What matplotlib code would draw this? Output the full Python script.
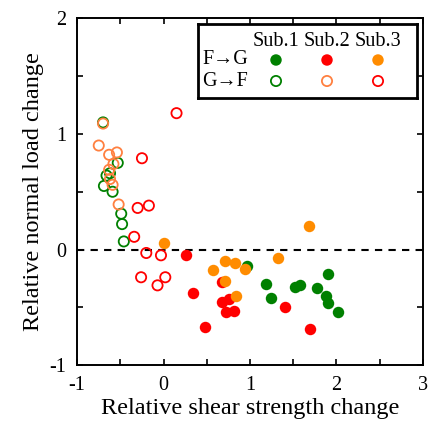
import matplotlib
matplotlib.use("Agg")
import matplotlib.pyplot as plt
import numpy as np

plt.rcParams['font.family'] = ['Liberation Serif', 'DejaVu Serif']
plt.rcParams['axes.unicode_minus'] = False

# F->G (filled)
sub1_fg_x = [0.96, 1.18, 1.24, 1.52, 1.58, 1.78, 1.90, 1.88, 1.90, 2.02]
sub1_fg_y = [-0.14, -0.30, -0.42, -0.32, -0.31, -0.33, -0.21, -0.40, -0.46, -0.54]

sub2_fg_x = [0.26, 0.34, 0.48, 0.68, 0.68, 0.76, 0.72, 0.82, 1.40, 1.70]
sub2_fg_y = [-0.05, -0.38, -0.67, -0.28, -0.45, -0.43, -0.54, -0.53, -0.50, -0.69]

sub3_fg_x = [0.00, 0.57, 0.71, 0.83, 0.94, 0.71, 0.84, 1.32, 1.68]
sub3_fg_y = [0.06, -0.18, -0.10, -0.12, -0.17, -0.27, -0.40, -0.07, 0.20]

# G->F (open)
sub1_gf_x = [-0.70, -0.66, -0.69, -0.59, -0.53, -0.49, -0.48, -0.46, -0.62]
sub1_gf_y = [1.10, 0.64, 0.55, 0.50, 0.75, 0.31, 0.22, 0.07, 0.66]

sub2_gf_x = [-0.70, -0.75, -0.63, -0.54, -0.58, -0.63, -0.62, -0.59, -0.52]
sub2_gf_y = [1.09, 0.90, 0.82, 0.84, 0.74, 0.69, 0.61, 0.56, 0.39]

sub3_gf_x = [0.15, -0.25, -0.30, -0.17, -0.34, -0.20, -0.03, -0.26, 0.02, -0.07]
sub3_gf_y = [1.18, 0.79, 0.36, 0.38, 0.11, -0.03, -0.05, -0.24, -0.24, -0.31]

GREEN = "#008000"
RED = "#ff0000"
ORANGE = "#ff8c00"
LORANGE = "#ff8040"

sub_labels = ["Sub.1", "Sub.2", "Sub.3"]
row_labels = ["F\u2192G", "G\u2192F"]
fg_colors = [GREEN, RED, ORANGE]
gf_colors = [GREEN, LORANGE, RED]

fig = plt.figure(figsize=(4.31, 4.28), dpi=100)
ax = fig.add_axes([0.179, 0.147, 0.802, 0.810])

S_FILL = 68
S_OPEN = 54
LW_OPEN = 1.3

ax.axhline(0, color="black", lw=1.5, ls=(0, (3.5, 3)), zorder=1)

# open markers
ax.scatter(sub1_gf_x, sub1_gf_y, s=S_OPEN, facecolors="none", edgecolors=GREEN, linewidths=LW_OPEN, zorder=2)
ax.scatter(sub2_gf_x, sub2_gf_y, s=S_OPEN, facecolors="none", edgecolors=LORANGE, linewidths=LW_OPEN, zorder=3)
ax.scatter(sub3_gf_x, sub3_gf_y, s=S_OPEN, facecolors="none", edgecolors=RED, linewidths=LW_OPEN, zorder=3)

# filled markers
ax.scatter(sub1_fg_x, sub1_fg_y, s=S_FILL, color=GREEN, linewidths=0, zorder=4)
ax.scatter(sub2_fg_x, sub2_fg_y, s=S_FILL, color=RED, linewidths=0, zorder=5)
ax.scatter(sub3_fg_x, sub3_fg_y, s=S_FILL, color=ORANGE, linewidths=0, zorder=6)

ax.set_xlim(-1, 3)
ax.set_ylim(-1, 2)
ax.set_xticks([-1, 0, 1, 2, 3])
ax.set_yticks([-1, 0, 1, 2])
ax.set_xticks(np.arange(-0.5, 3, 1), minor=True)
ax.set_yticks(np.arange(-0.5, 2, 1), minor=True)
ax.tick_params(which="both", direction="in", top=True, right=True, length=4, width=1.2, labelsize=14.5, pad=8)
ax.set_xlabel("Relative shear strength change", fontsize=17.5, labelpad=2)
ax.set_ylabel("Relative normal load change", fontsize=17.5, labelpad=4)
for sp in ax.spines.values():
    sp.set_linewidth(1.4)

# table-style legend
lax = fig.add_axes([198 / 431, 1 - 98 / 428, 219 / 431, 74 / 428])
lax.set_xlim(0, 219)
lax.set_ylim(74, 0)
lax.set_xticks([])
lax.set_yticks([])
for sp in lax.spines.values():
    sp.set_linewidth(2)
col_x = [78, 129, 180]
row_y = [36, 57]
for cx, lab in zip(col_x, sub_labels):
    lax.text(cx, 17, lab, ha="center", va="center", fontsize=14.5)
for ry, lab in zip(row_y, row_labels):
    lax.text(4, ry, lab, ha="left", va="center", fontsize=14.5)
lax.scatter(col_x, [row_y[0]] * 3, s=S_FILL, c=fg_colors, linewidths=0)
lax.scatter(col_x, [row_y[1]] * 3, s=S_OPEN, facecolors="none", edgecolors=gf_colors, linewidths=LW_OPEN)

fig.savefig("out.png", dpi=100)
